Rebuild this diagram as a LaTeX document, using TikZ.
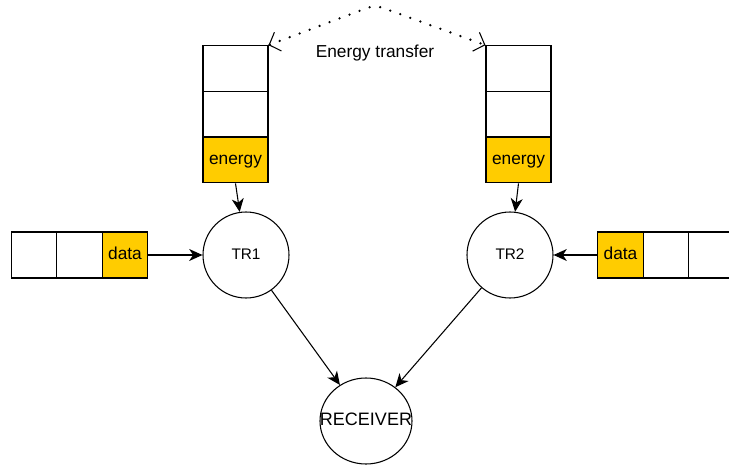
\documentclass[tikz,border=0pt]{standalone}
\usepackage{fontspec}
\setmainfont{Liberation Sans}
\usetikzlibrary{arrows.meta,shapes.geometric}
\definecolor{cellYellow}{HTML}{FFCC00}

\begin{document}
\begin{tikzpicture}[
  x=0.75pt, y=-0.75pt,
  txt/.style={text height=0.9em, text depth=0.21em},
  cell/.style={rectangle, draw=black, fill=white, line width=0.8pt, inner sep=0pt, minimum width=48.75pt, minimum height=34.2pt, font=\fontsize{13}{15}\selectfont, txt},
  ecell/.style={cell, fill=cellYellow},
  qcell/.style={cell, minimum width=34.1pt, minimum height=34.5pt},
  dcell/.style={qcell, fill=cellYellow},
  trnode/.style={circle, draw=black, fill=white, line width=0.8pt, inner sep=0pt, minimum size=64.5pt, font=\fontsize{11.5}{13}\selectfont, txt},
  rxnode/.style={ellipse, draw=black, fill=white, line width=0.8pt, inner sep=0pt, minimum width=69pt, minimum height=64.5pt},
  flow/.style={line width=0.8pt, -{Stealth[length=10pt,width=9pt,inset=3pt]}},
  xfer/.style={line width=1.9pt, line cap=round, dash pattern=on 0pt off 8pt, rounded corners=6pt,
    {Straight Barb[length=7pt,width=15pt,line width=0.8pt]}-{Straight Barb[length=7pt,width=15pt,line width=0.8pt]}}
]
  \useasboundingbox (0,0) rectangle (729,471);

  % --- PILA DE ENERGIA 1 ---
  \node[cell]  (e1_1) at (235.5, 68.5) {};
  \node[cell]  (e1_2) at (235.5, 114) {};
  \node[ecell] (e1_3) at (235.5, 160) {energy};

  % --- PILA DE ENERGIA 2 ---
  \node[cell]  (e2_1) at (518.5, 68.5) {};
  \node[cell]  (e2_2) at (518.5, 114) {};
  \node[ecell] (e2_3) at (518.5, 160) {energy};

  % --- COLAS DE DATOS ---
  \node[qcell] (q1_1) at (34, 255) {};
  \node[qcell] (q1_2) at (79.5, 255) {};
  \node[dcell] (q1_3) at (125, 255) {data};
  \node[dcell] (q2_1) at (620.5, 255) {data};
  \node[qcell] (q2_2) at (666, 255) {};
  \node[qcell] (q2_3) at (711.5, 255) {};

  % --- NODOS ---
  \node[trnode] (tr1) at (246, 255) {TR1};
  \node[trnode] (tr2) at (510, 255) {TR2};
  \node[rxnode, label={[font=\fontsize{13.5}{15}\selectfont, txt]center:RECEIVER}] (rx) at (366, 421) {};   % Receptor inferior

  \draw[flow] (e1_3.south) -- (tr1);
  \draw[flow] (e2_3.south) -- (tr2);
  \draw[flow] (q1_3.east) -- (tr1);
  \draw[flow] (q2_1.west) -- (tr2);
  \draw[flow] (tr1) -- (rx);
  \draw[flow] (tr2) -- (rx);

  % Transferencia de energia
  \coordinate (peak) at (375, 5);
  \draw[xfer] (e1_1.north east) -- (peak) -- (e2_1.north west);
  \node[font=\fontsize{13}{15}\selectfont, txt] (xlbl) at (375, 53) {Energy transfer};
\end{tikzpicture}
\end{document}
